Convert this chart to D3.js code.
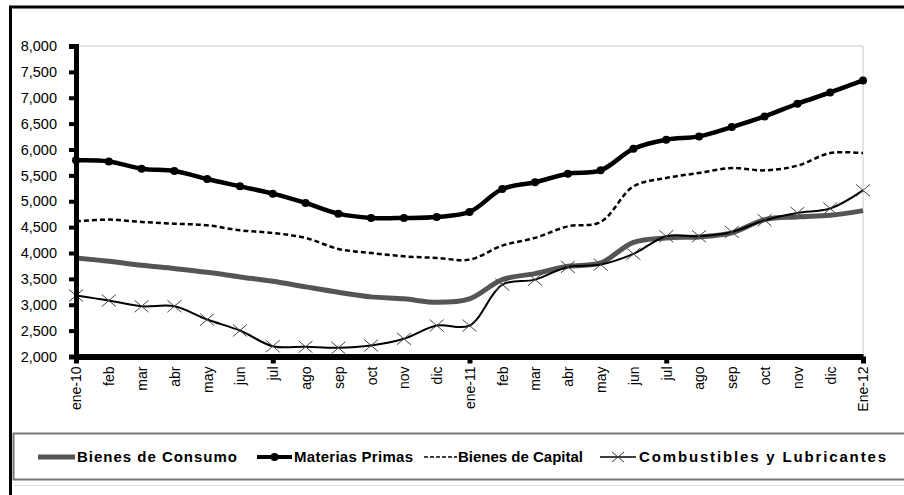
<!DOCTYPE html>
<html>
<head>
<meta charset="utf-8">
<script src="https://cdn.jsdelivr.net/npm/d3@7"></script>
<style>
  body { margin: 0; background: #fff; }
  svg { display: block; font-family: Arial, "Liberation Sans", sans-serif; }
</style>
</head>
<body>
<svg></svg>
<script>
let months = ['ene-10','feb','mar','abr','may','jun','jul','ago','sep','oct','nov','dic',
              'ene-11','feb','mar','abr','may','jun','jul','ago','sep','oct','nov','dic','Ene-12']

let consumo = [3905,3840,3763,3699,3627,3538,3454,3346,3241,3152,3114,3048,
               3114,3486,3602,3743,3808,4206,4292,4311,4388,4645,4697,4728,4819]
let materias = [5790,5770,5629,5585,5430,5288,5147,4967,4760,4677,4677,4697,
                4793,5237,5366,5533,5597,6015,6189,6253,6434,6639,6884,7102,7334]
let capital = [4612,4645,4600,4567,4535,4438,4388,4292,4079,4000,3936,3905,
               3872,4143,4292,4515,4600,5288,5450,5546,5643,5597,5687,5932,5932]
let combustibles = [3178,3081,2971,2971,2714,2502,2199,2187,2168,2212,2342,2598,
                    2598,3390,3486,3731,3776,3982,4323,4323,4407,4633,4774,4860,5210]

let yTicks = [2000,2500,3000,3500,4000,4500,5000,5500,6000,6500,7000,7500,8000]
let majorTicks = [0,6,12,18,24]
let seriesNames = ['Bienes de Consumo','Materias Primas','Bienes de Capital','Combustibles y Lubricantes']

let width = 904
let height = 495

let svg = d3.select('svg')
  .attr('width', width)
  .attr('height', height)

// outer frame (top + left visible)
svg.append('path')
   .attr('d', `M10.5,${height} L10.5,7 L${width},7`)
   .attr('fill', 'none')
   .attr('stroke', '#000')
   .attr('stroke-width', 3)

let xScale = d3.scaleLinear().domain([0, months.length - 1]).range([76, 863])
let yScale = d3.scaleLinear().domain([2000, 8000]).range([356.5, 46])

// plot area border (light gray)
svg.append('path')
   .attr('d', `M76,46 L863,46 L863,356`)
   .attr('fill', 'none')
   .attr('stroke', '#c8c8c8')
   .attr('stroke-width', 1)

let curve = d3.curveCatmullRom.alpha(0.5)
let line = d3.line()
  .x((d, i) => xScale(i))
  .y(d => yScale(d))
  .curve(curve)

// Bienes de Consumo
svg.append('path')
   .datum(consumo)
   .attr('d', line)
   .attr('fill', 'none')
   .attr('stroke', '#555')
   .attr('stroke-width', 5)

// Bienes de Capital
svg.append('path')
   .datum(capital)
   .attr('d', line)
   .attr('fill', 'none')
   .attr('stroke', '#000')
   .attr('stroke-width', 2.5)
   .attr('stroke-dasharray', '5,3')

// Combustibles y Lubricantes
svg.append('path')
   .datum(combustibles)
   .attr('d', line)
   .attr('fill', 'none')
   .attr('stroke', '#000')
   .attr('stroke-width', 2)

svg.selectAll('path.xmark')
   .data(combustibles)
   .enter()
   .append('path')
   .attr('class', 'xmark')
   .attr('d', (d, i) => {
     let x = xScale(i), y = yScale(d)
     return `M${x-7},${y-6} L${x+7},${y+6} M${x-7},${y+6} L${x+7},${y-6}`
   })
   .attr('stroke', '#444')
   .attr('stroke-width', 1)

// Materias Primas
svg.append('path')
   .datum(materias)
   .attr('d', line)
   .attr('fill', 'none')
   .attr('stroke', '#000')
   .attr('stroke-width', 4.5)

svg.selectAll('circle.dot')
   .data(materias)
   .enter()
   .append('circle')
   .attr('class', 'dot')
   .attr('cx', (d, i) => xScale(i))
   .attr('cy', d => yScale(d))
   .attr('r', 4)
   .attr('fill', '#000')

// axes
let yAxis = d3.axisLeft(yScale)
  .tickValues(yTicks)
  .tickFormat(d3.format(','))
  .tickSize(7)
  .tickPadding(12)

let gy = svg.append('g')
  .attr('transform', 'translate(76,0)')
  .call(yAxis)
gy.select('.domain').attr('stroke-width', 5)
gy.selectAll('.tick line').attr('stroke-width', 4)
gy.selectAll('.tick text')
  .attr('font-size', 14.5)
  .attr('font-family', 'Arial, "Liberation Sans", sans-serif')
  .attr('fill', '#000')

let xLabels = d3.axisBottom(xScale)
  .tickValues(d3.range(months.length))
  .tickFormat(i => months[i])
  .tickSize(0)

let gx = svg.append('g')
  .attr('transform', 'translate(0,356.5)')
  .call(xLabels)
gx.select('.domain').attr('stroke-width', 6)
gx.selectAll('.tick text')
  .attr('font-size', 14)
  .attr('font-family', 'Arial, "Liberation Sans", sans-serif')
  .attr('fill', '#000')
  .attr('transform', 'rotate(-90)')
  .attr('text-anchor', 'end')
  .attr('dy', '0.35em')
  .attr('x', -10)
  .attr('y', 0)

let xMarks = d3.axisBottom(xScale)
  .tickValues(majorTicks)
  .tickFormat('')
  .tickSize(7)

let gm = svg.append('g')
  .attr('transform', 'translate(0,356.5)')
  .call(xMarks)
gm.select('.domain').remove()
gm.selectAll('.tick line').attr('stroke-width', 5)

// legend
let legend = svg.append('g')
legend.append('rect')
  .attr('x', 13.5)
  .attr('y', 433.5)
  .attr('width', width)
  .attr('height', 46)
  .attr('fill', '#fff')
  .attr('stroke', '#777')
  .attr('stroke-width', 2)
legend.append('line')
  .attr('x1', 14).attr('x2', width)
  .attr('y1', 485.5).attr('y2', 485.5)
  .attr('stroke', '#ddd')

let ly = 457
let items = [
  { x0: 38, x1: 75, tx: 77, tw: 160 },
  { x0: 257, x1: 292, tx: 294, tw: 119 },
  { x0: 424, x1: 457, tx: 458, tw: 125 },
  { x0: 600, x1: 636, tx: 639, tw: 247 }
]

legend.append('line')
  .attr('x1', items[0].x0).attr('x2', items[0].x1)
  .attr('y1', ly).attr('y2', ly)
  .attr('stroke', '#555').attr('stroke-width', 5)

legend.append('line')
  .attr('x1', items[1].x0).attr('x2', items[1].x1)
  .attr('y1', ly).attr('y2', ly)
  .attr('stroke', '#000').attr('stroke-width', 4)
legend.append('circle')
  .attr('cx', (items[1].x0 + items[1].x1) / 2).attr('cy', ly).attr('r', 4)
  .attr('fill', '#000')

legend.append('line')
  .attr('x1', items[2].x0).attr('x2', items[2].x1)
  .attr('y1', ly).attr('y2', ly)
  .attr('stroke', '#000').attr('stroke-width', 1.5)
  .attr('stroke-dasharray', '4,2')

legend.append('line')
  .attr('x1', items[3].x0).attr('x2', items[3].x1)
  .attr('y1', ly).attr('y2', ly)
  .attr('stroke', '#000').attr('stroke-width', 1.5)
legend.append('path')
  .attr('d', () => {
    let x = (items[3].x0 + items[3].x1) / 2
    return `M${x-6},${ly-5} L${x+6},${ly+5} M${x-6},${ly+5} L${x+6},${ly-5}`
  })
  .attr('stroke', '#333').attr('stroke-width', 1)

legend.selectAll('text.leg')
  .data(seriesNames)
  .enter()
  .append('text')
  .attr('class', 'leg')
  .attr('x', (d, i) => items[i].tx)
  .attr('y', ly)
  .attr('dy', '0.35em')
  .attr('font-size', 15)
  .attr('font-weight', 'bold')
  .attr('textLength', (d, i) => items[i].tw)
  .attr('lengthAdjust', 'spacing')
  .text(d => d)
</script>
</body>
</html>
